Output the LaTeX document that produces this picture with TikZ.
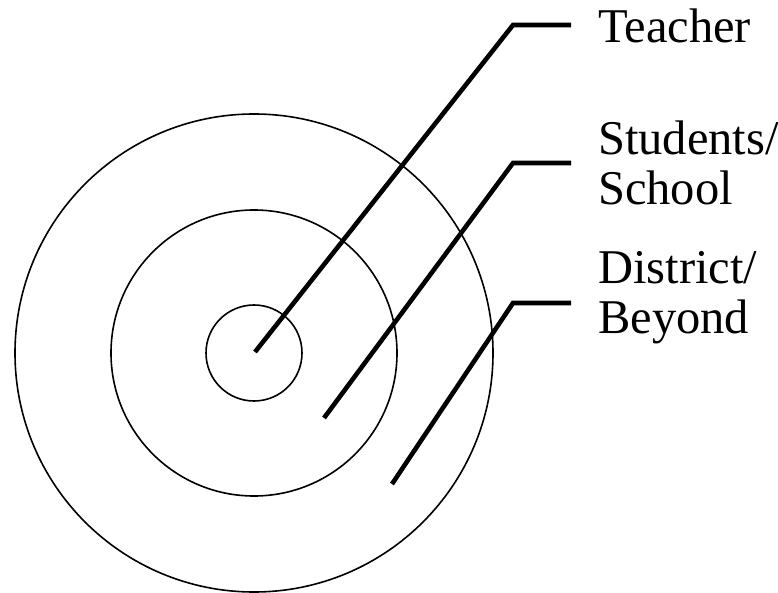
\documentclass[tikz,border=0pt]{standalone}
\usepackage{fontspec}
\setmainfont{Liberation Serif}
\usetikzlibrary{positioning,calc}

\begin{document}
\begin{tikzpicture}[x=1pt,y=-1pt,ringstyle/.style={draw=black,line width=1.6pt},
    leaderstyle/.style={draw=black,line width=4.6pt,line join=miter},
    labelstyle/.style={font=\fontsize{48.5}{50}\selectfont,inner sep=0pt,anchor=base west,align=left}]
    \useasboundingbox (0,0) rectangle (778,593);
    \coordinate (centre) at (254,353);
    \draw[ringstyle] (centre) circle[radius=48];
    \draw[ringstyle] (centre) circle[radius=143];
    \draw[ringstyle] (centre) circle[radius=239];
    % labels (base anchor sits on the last line)
    \node[labelstyle] (teacher) at (598,43) {Teacher};
    \node[labelstyle] (students) at (598,205) {Students/\\School};
    \node[labelstyle] (district) at (598,333) {District/\\Beyond};
    % leader lines
    \coordinate (tIn) at (255,352);
    \coordinate (sIn) at (324,418);
    \coordinate (dIn) at (392,484);
    \draw[leaderstyle] (tIn)--(513,25)--(571,25);
    \draw[leaderstyle] (sIn)--(513,163)--(571,163);
    \draw[leaderstyle] (dIn)--(513,303)--(571,303);
\end{tikzpicture}
\end{document}
